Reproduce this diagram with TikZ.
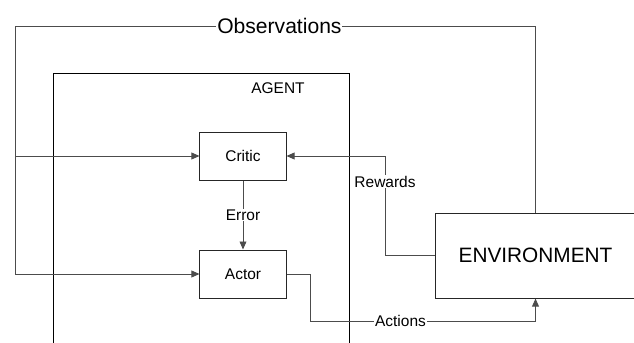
\documentclass[tikz,border=0pt]{standalone}
\usepackage{fontspec}
\setmainfont{Liberation Sans}
\usetikzlibrary{arrows.meta,positioning,calc}

\begin{document}
\begin{tikzpicture}[x=0.025cm,y=-0.025cm,
    block/.style={draw=black!85,line width=0.7pt,minimum width=2.15cm,minimum height=1.2cm,
      font=\fontsize{11}{13}\selectfont},
    conn/.style={draw=black!70,line width=0.7pt,-{Triangle[length=0.2cm,width=0.17cm]}},
    lbl/.style={fill=white,inner sep=0.6pt,font=\fontsize{11}{13}\selectfont}]
    \useasboundingbox (0,0) rectangle (634,343);

    % agent frame, open at the bottom
    \draw[line width=0.7pt] (53,350) |- (349,73) -- (349,350);
    \node[font=\fontsize{11}{13}\selectfont] (agent) at (278,88) {AGENT};

    \node[block] (critic) at (243,156) {Critic};
    \node[block] (actor) at (243,274) {Actor};

    \node[block,anchor=west,minimum width=5cm,minimum height=2.125cm,
      font=\fontsize{14.8}{17}\selectfont] (env) at (435,255.5) {ENVIRONMENT};

    \coordinate (obsL) at (15,26);

    \draw[conn] (critic) -- node[lbl] {Error} (actor);

    \draw[conn] (env.west) -- ++(-50,0)
      |- node[lbl,pos=0.37] {Rewards} (critic.east);

    \draw[conn] (actor.east) -- ++(24,0) -- ++(0,47)
      -| node[lbl,pos=0.2] {Actions} (env.south);

    \draw[conn] (env.north) |- node[lbl,pos=0.746,font=\fontsize{15}{18}\selectfont]
      {Observations} (obsL) |- (actor.west);
    \draw[conn] (obsL |- critic.west) -- (critic.west);
\end{tikzpicture}
\end{document}
